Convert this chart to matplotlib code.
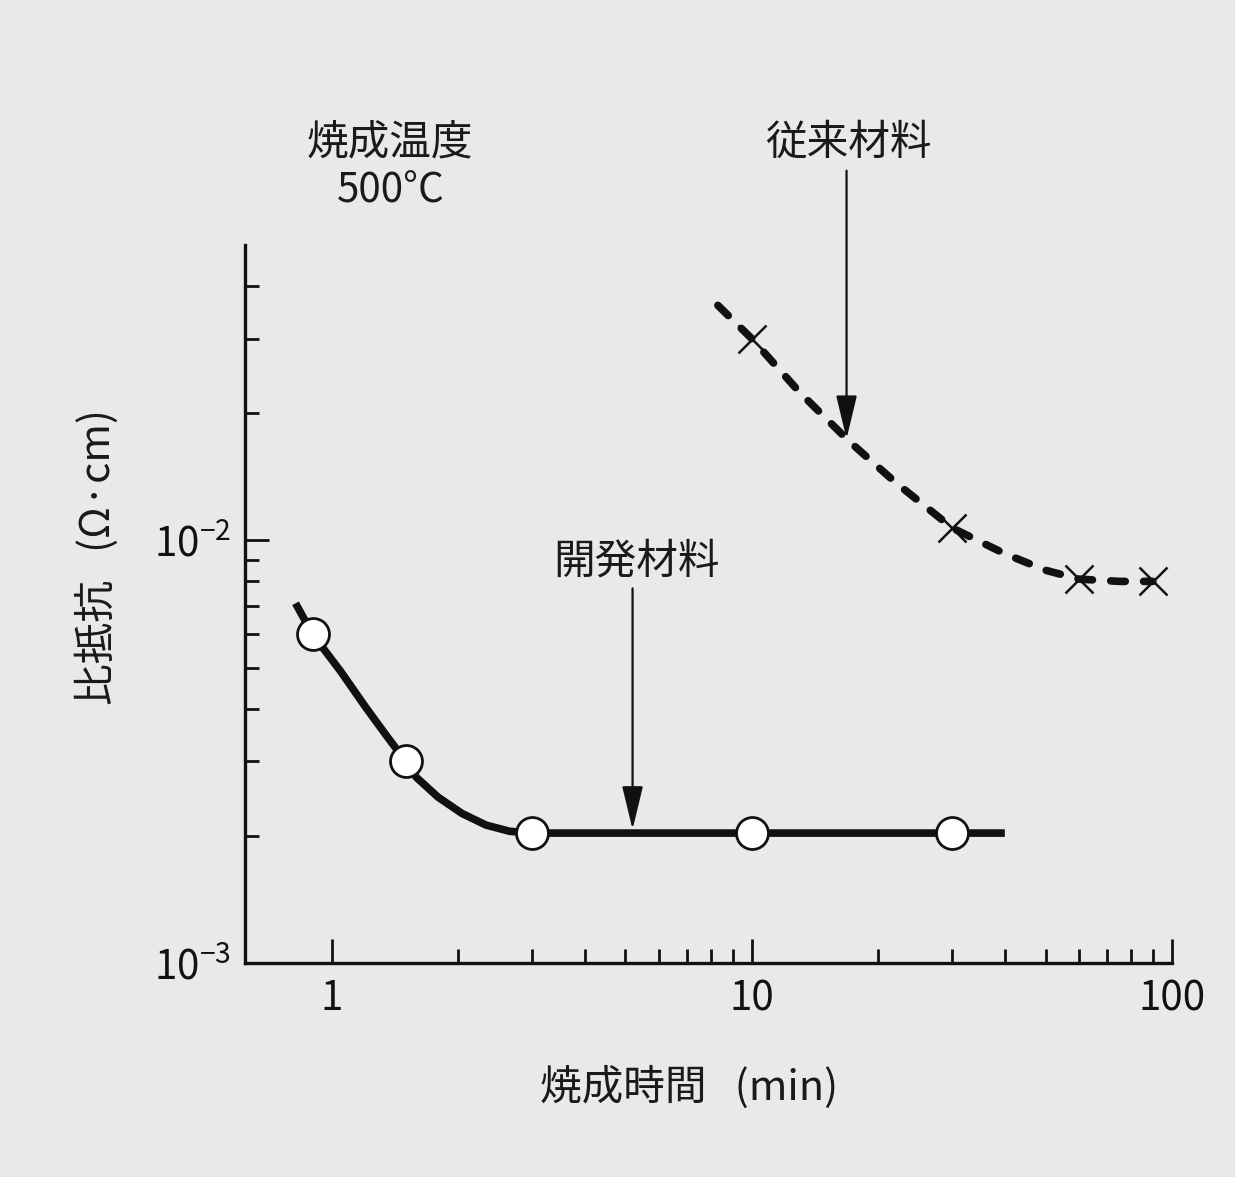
import matplotlib
matplotlib.use("Agg")
import matplotlib.pyplot as plt
from matplotlib.ticker import FixedLocator, FixedFormatter, NullFormatter

plt.rcParams['font.family'] = ['Noto Sans CJK JP', 'DejaVu Sans']
plt.rcParams['mathtext.fontset'] = 'custom'
plt.rcParams['mathtext.rm'] = 'Noto Sans CJK JP'

# ---- data ----
# developed material (開発材料): measured points
dev_x = [0.9, 1.5, 3, 10, 30]
dev_y = [6.0e-3, 3.0e-3, 2.03e-3, 2.03e-3, 2.03e-3]
# developed material: drawn curve
dev_curve_x = [0.82, 0.9, 1.05, 1.2, 1.35, 1.5, 1.59, 1.79, 2.04, 2.33, 2.65, 3.0, 10, 30, 40]
dev_curve_y = [7.1e-3, 6.0e-3, 4.9e-3, 4.05e-3, 3.45e-3, 3.0e-3, 2.75e-3, 2.47e-3, 2.26e-3,
               2.12e-3, 2.05e-3, 2.03e-3, 2.03e-3, 2.03e-3, 2.03e-3]

# conventional material (従来材料): measured points
conv_x = [10, 30, 60, 90]
conv_y = [3.0e-2, 1.07e-2, 8.1e-3, 8.0e-3]
# conventional material: drawn curve
conv_curve_x = [8.3, 10, 13, 17, 22, 30, 40, 50, 60, 75, 90]
conv_curve_y = [3.6e-2, 3.0e-2, 2.24e-2, 1.72e-2, 1.37e-2, 1.07e-2, 9.3e-3, 8.5e-3, 8.1e-3, 8.0e-3, 8.0e-3]

x_major = [1, 10, 100]
x_major_labels = ['1', '10', '100']
x_minor = [2, 3, 4, 5, 6, 7, 8, 9, 20, 30, 40, 50, 60, 70, 80, 90]
y_major = [1e-3, 1e-2]
y_major_labels = [r'$\mathregular{10^{-3}}$', r'$\mathregular{10^{-2}}$']
y_minor = [2e-3, 3e-3, 4e-3, 5e-3, 6e-3, 7e-3, 8e-3, 9e-3, 2e-2, 3e-2, 4e-2]

# arrows: (x, y_start, y_tip)
dev_arrow = (5.2, 7.7e-3, 2.07e-3)
conv_arrow = (16.8, 7.5e-2, 1.74e-2)

bg = '#e9e9e9'
fig = plt.figure(figsize=(12.35, 11.77), dpi=100, facecolor=bg)
ax = fig.add_axes([0.198, 0.1818, 0.751, 0.610])
ax.set_facecolor(bg)
ax.set_xscale('log')
ax.set_yscale('log')
ax.set_xlim(0.62, 100)
ax.set_ylim(1e-3, 5e-2)

for s in ['top', 'right']:
    ax.spines[s].set_visible(False)
for s in ['left', 'bottom']:
    ax.spines[s].set_linewidth(2.4)
    ax.spines[s].set_color('#111111')

ax.xaxis.set_major_locator(FixedLocator(x_major))
ax.xaxis.set_major_formatter(FixedFormatter(x_major_labels))
ax.xaxis.set_minor_locator(FixedLocator(x_minor))
ax.xaxis.set_minor_formatter(NullFormatter())
ax.yaxis.set_major_locator(FixedLocator(y_major))
ax.yaxis.set_major_formatter(FixedFormatter(y_major_labels))
ax.yaxis.set_minor_locator(FixedLocator(y_minor))
ax.yaxis.set_minor_formatter(NullFormatter())

ax.tick_params(which='major', direction='in', length=17, width=2.0, labelsize=29,
               colors='#111111')
ax.tick_params(which='minor', direction='in', length=10, width=2.0, colors='#111111')
ax.tick_params(axis='x', which='major', pad=11)
ax.tick_params(axis='y', which='major', pad=10)

# curves
ax.plot(dev_curve_x, dev_curve_y, color='#111111', lw=5.5, solid_capstyle='butt',
        solid_joinstyle='round', zorder=3)
ax.plot(conv_curve_x, conv_curve_y, color='#111111', lw=5.5, dash_capstyle='round',
        dashes=(1.9, 2.4), zorder=3)

# markers
ax.plot(dev_x, dev_y, linestyle='none', marker='o', markersize=23,
        markerfacecolor='white', markeredgecolor='#111111', markeredgewidth=2.0, zorder=4)
ax.plot(conv_x, conv_y, linestyle='none', marker='x', markersize=20,
        markeredgecolor='#111111', markeredgewidth=1.8, zorder=4)

# arrows
for (xa, y0, y1) in [dev_arrow, conv_arrow]:
    ax.annotate('', xy=(xa, y1), xytext=(xa, y0), xycoords='data', textcoords='data',
                annotation_clip=False,
                arrowprops=dict(arrowstyle='-|>,head_length=2.7,head_width=0.65',
                                mutation_scale=10, color='#111111', lw=1.6,
                                shrinkA=0, shrinkB=0), zorder=5)

# texts
tc = '#1a1a1a'
fs = 30
fig.text(0.316, 0.8785, '焼成温度', ha='center', va='center', fontsize=fs, color=tc)
fig.text(0.316, 0.8386, '500°C', ha='center', va='center', fontsize=fs - 1, color=tc)
fig.text(0.6866, 0.8785, '従来材料', ha='center', va='center', fontsize=fs, color=tc)
fig.text(0.515, 0.5225, '開発材料', ha='center', va='center', fontsize=fs, color=tc)
fig.text(0.558, 0.0765, '焼成時間   (min)', ha='center', va='center', fontsize=fs, color=tc)
fig.text(0.0785, 0.527, '比抵抗   (Ω·cm)', ha='center', va='center', fontsize=fs,
         color=tc, rotation=90)

fig.savefig('out.png', dpi=100, facecolor=bg)
